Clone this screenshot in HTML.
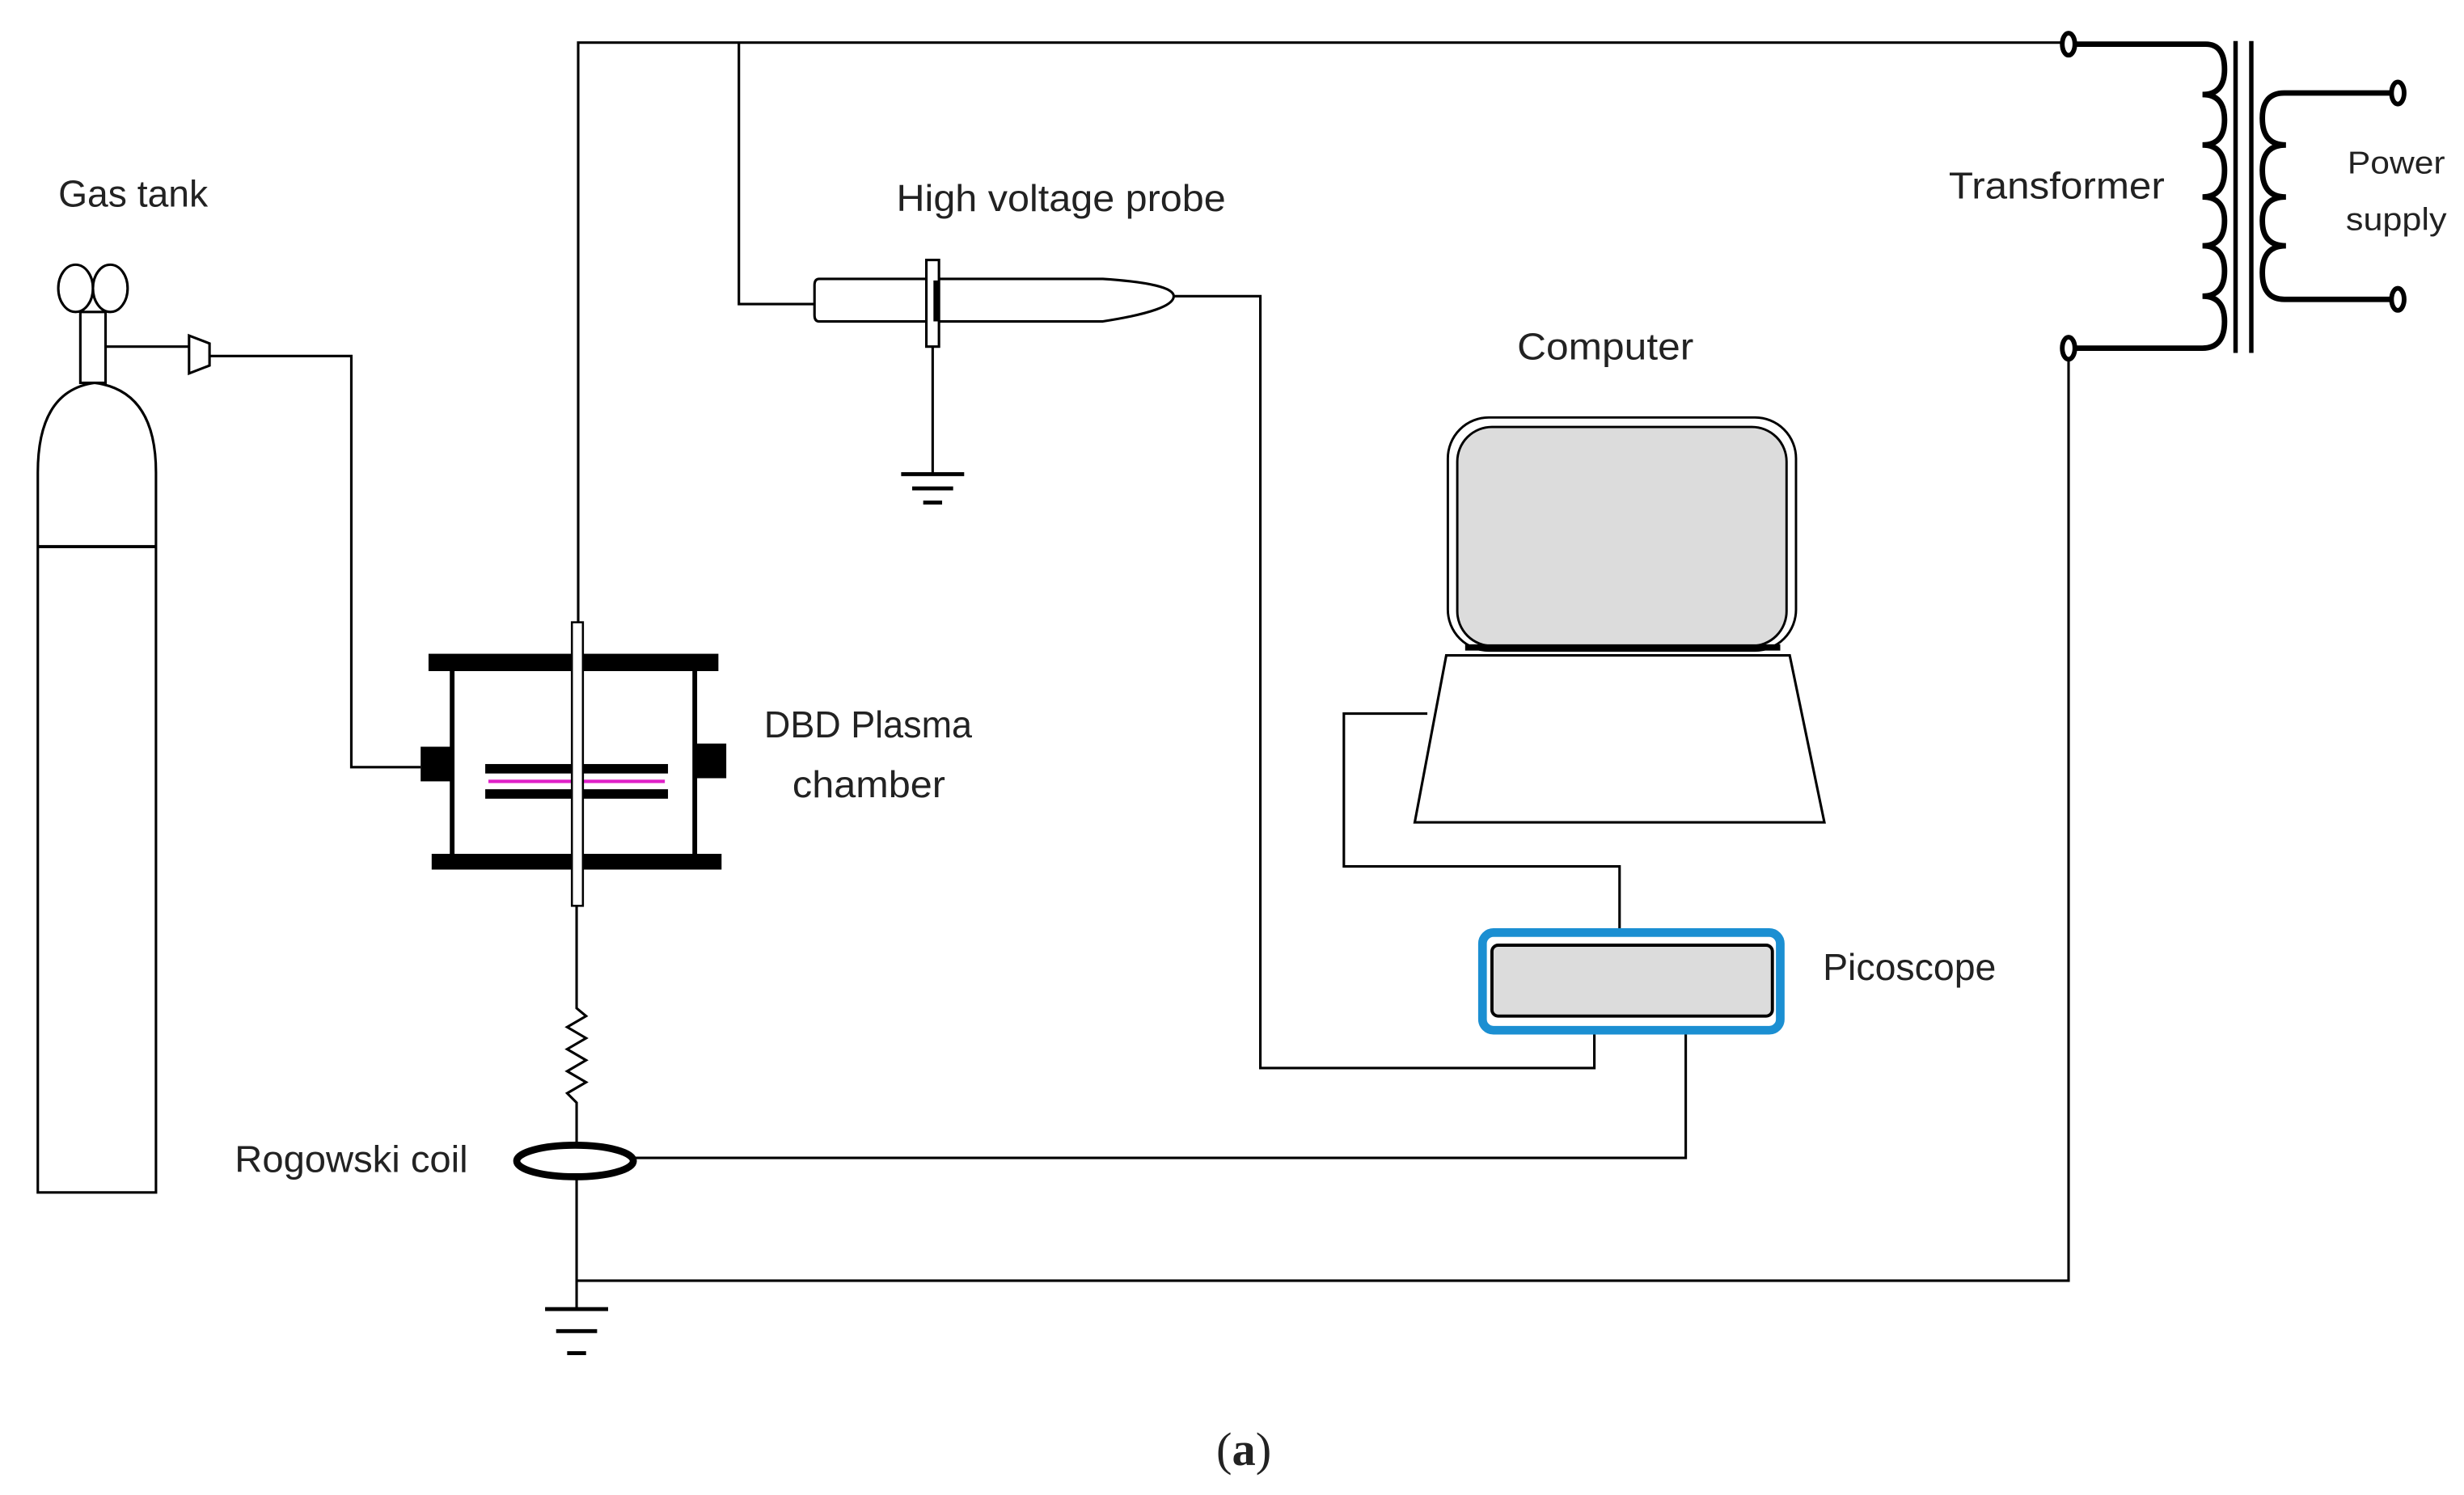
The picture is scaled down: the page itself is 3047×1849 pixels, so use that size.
<!DOCTYPE html>
<html><head><meta charset="utf-8"><style>
html,body{margin:0;padding:0;background:#fff}
svg{display:block}
text{font-family:"Liberation Sans",sans-serif;fill:#222}
</style></head><body>
<svg width="3047" height="1849" viewBox="0 0 1564 949" xmlns="http://www.w3.org/2000/svg">
<g fill="none" stroke="#000" stroke-width="1.6">
<!-- top wire -->
<polyline points="367,395 367,27 1309,27"/>
<polyline points="469,27 469,193 517,193"/>
<!-- probe -->
<path d="M520,177 H700 Q745,180 745,188 Q745,197 700,204 H520 Q517,204 517,200 V181 Q517,177 520,177 Z"/>
<rect x="588" y="165" width="8" height="55" fill="#fff"/>
<line x1="594" y1="178" x2="594" y2="204" stroke-width="3"/>
<line x1="592" y1="220" x2="592" y2="300"/>
<line x1="572" y1="301" x2="612" y2="301" stroke-width="2.5"/>
<line x1="579" y1="310" x2="605" y2="310" stroke-width="2.5"/>
<line x1="586" y1="319" x2="598" y2="319" stroke-width="2.5"/>
<polyline points="745,188 800,188 800,678 1012,678 1012,655"/>
<!-- gas tank -->
<ellipse cx="48" cy="183" rx="11" ry="15"/>
<ellipse cx="70" cy="183" rx="11" ry="15"/>
<rect x="51" y="198" width="16" height="45"/>
<path d="M24,757 V300 Q24,248 60,243 Q99,248 99,300 V757 Z"/>
<line x1="24" y1="347" x2="99" y2="347" stroke-width="2"/>
<line x1="67" y1="220" x2="120" y2="220"/>
<path d="M120,213 L133,218 V232 L120,237 Z"/>
<polyline points="133,226 223,226 223,487 267,487"/>
<!-- chamber -->
<line x1="287" y1="426" x2="287" y2="542" stroke-width="3"/>
<line x1="441" y1="426" x2="441" y2="542" stroke-width="3"/>
</g>
<g fill="#000">
<rect x="272" y="415" width="184" height="11"/>
<rect x="274" y="542" width="184" height="10"/>
<rect x="267" y="474" width="20" height="22"/>
<rect x="441" y="472" width="20" height="22"/>
<rect x="308" y="485" width="116" height="6"/>
<rect x="308" y="501" width="116" height="6"/>
</g>
<line x1="310" y1="496" x2="422" y2="496" stroke="#e020c8" stroke-width="2.2"/>
<rect x="363" y="395" width="7" height="180" fill="#fff" stroke="#000" stroke-width="1.3"/>
<g fill="none" stroke="#000" stroke-width="1.6">
<!-- resistor & rogowski -->
<polyline points="366,575 366,640 372,645 360,652 372,659 360,666 372,673 360,680 372,687 360,694 366,700 366,727"/>
<ellipse cx="365" cy="737" rx="37" ry="10" stroke-width="4.5"/>
<polyline points="402,735 1070,735 1070,655"/>
<line x1="366" y1="747" x2="366" y2="830"/>
<polyline points="366,813 1313,813 1313,227"/>
<line x1="346" y1="831" x2="386" y2="831" stroke-width="2.5"/>
<line x1="353" y1="845" x2="379" y2="845" stroke-width="2.5"/>
<line x1="360" y1="859" x2="372" y2="859" stroke-width="2.5"/>
<!-- computer -->
<rect x="919" y="265" width="221" height="148" rx="26" stroke-width="1.5"/>
<rect x="925" y="271" width="209" height="139" rx="22" fill="#dcdcdc" stroke-width="1.5"/>
<line x1="930" y1="411" x2="1130" y2="411" stroke-width="4"/>
<path d="M918,416 H1136 L1158,522 H898 Z"/>
<polyline points="906,453 853,453 853,550 1028,550 1028,592"/>
<!-- picoscope -->
<rect x="941" y="592" width="189" height="62" rx="7" stroke="#1b8fd2" stroke-width="5.5"/>
<rect x="947" y="600" width="178" height="45" rx="4" fill="#dcdcdc" stroke="#000" stroke-width="2"/>
<!-- transformer -->
<path d="M1313,28 H1400 Q1412,28 1412,44 Q1412,60 1398,60 Q1412,60 1412,76 Q1412,92 1398,92 Q1412,92 1412,108 Q1412,125 1398,125 Q1412,125 1412,140 Q1412,156 1398,156 Q1412,156 1412,172 Q1412,188 1398,188 Q1412,188 1412,204 Q1412,221 1398,221 H1313" stroke-width="3.5"/>
<line x1="1419" y1="26" x2="1419" y2="224" stroke-width="2.8"/>
<line x1="1429" y1="26" x2="1429" y2="224" stroke-width="2.8"/>
<path d="M1518,59 H1450 Q1436,59 1436,75 Q1436,92 1451,92 Q1436,92 1436,108 Q1436,125 1451,125 Q1436,125 1436,140 Q1436,156 1451,156 Q1436,156 1436,173 Q1436,190 1450,190 H1518" stroke-width="3.5"/>
<ellipse cx="1313" cy="28" rx="4" ry="7" fill="#fff" stroke-width="3"/>
<ellipse cx="1313" cy="221" rx="4" ry="7" fill="#fff" stroke-width="3"/>
<ellipse cx="1522" cy="59" rx="4" ry="7" fill="#fff" stroke-width="3"/>
<ellipse cx="1522" cy="190" rx="4" ry="7" fill="#fff" stroke-width="3"/>
</g>
<!-- labels -->
<g font-size="24">
<text x="37" y="131" textLength="95" lengthAdjust="spacingAndGlyphs">Gas tank</text>
<text x="569" y="134" textLength="209" lengthAdjust="spacingAndGlyphs">High voltage probe</text>
<text x="963" y="228" textLength="112" lengthAdjust="spacingAndGlyphs">Computer</text>
<text x="1237" y="126" textLength="137" lengthAdjust="spacingAndGlyphs">Transformer</text>
<text x="485" y="468" textLength="132" lengthAdjust="spacingAndGlyphs">DBD Plasma</text>
<text x="503" y="506" textLength="97" lengthAdjust="spacingAndGlyphs">chamber</text>
<text x="1157" y="622" textLength="110" lengthAdjust="spacingAndGlyphs">Picoscope</text>
<text x="149" y="744" textLength="148" lengthAdjust="spacingAndGlyphs">Rogowski coil</text>
</g>
<g font-size="20">
<text x="1490" y="110" textLength="62" lengthAdjust="spacingAndGlyphs">Power</text>
<text x="1489" y="146" textLength="64" lengthAdjust="spacingAndGlyphs">supply</text>
</g>
<text x="772" y="930" font-size="30" style="font-family:'Liberation Serif',serif" fill="#000">(<tspan font-weight="bold">a</tspan>)</text>
</svg>
</body></html>
